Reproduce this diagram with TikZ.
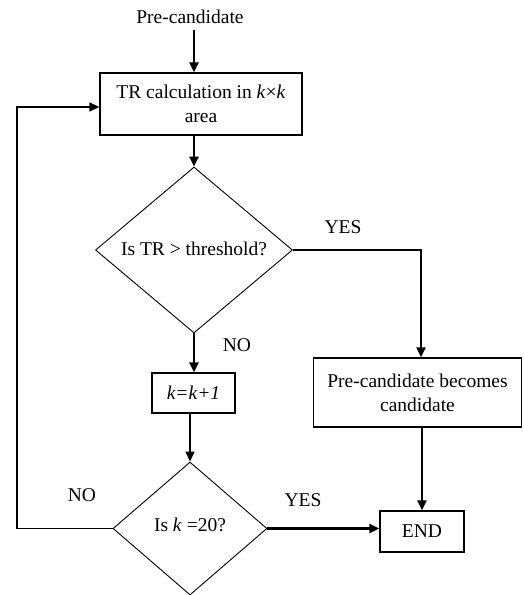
\documentclass[tikz,border=0pt]{standalone}
\usepackage{fontspec}
\setmainfont{Liberation Serif}
\usetikzlibrary{shapes.geometric,arrows.meta}
\begin{document}
\begin{tikzpicture}[x=1pt,y=-1pt,
  every node/.style={font=\fontsize{19.5}{24}\selectfont, inner sep=0pt},
  procbox/.style={draw, line width=1.3pt, align=center},
  decision/.style={draw, diamond, line width=0.9pt, aspect=1.2},
  lbl/.style={},
  thickarrow/.style={line width=2.6pt, -{Triangle[length=10pt,width=9pt]}},
  medarrow/.style={line width=2pt, -{Triangle[length=10pt,width=9pt]}},
  thinarrow/.style={line width=1.4pt, -{Triangle[length=10pt,width=9pt]}}
]
\useasboundingbox (0,0) rectangle (523,595);
\node (pre) at (190,17) {Pre-candidate};
\node[procbox, minimum width=202pt, minimum height=62pt] (tr) at (201,104)
  {TR calculation in \textit{k}×\textit{k}\\area};
\node[decision, minimum width=197pt, minimum height=166pt] (d1) at (194,250) {};
\node (d1t) at (194,249) {Is TR > threshold?};
\node[procbox, minimum width=83pt, minimum height=40pt] (kk) at (193.5,393) {\textit{k=k+1}};
\node[procbox, minimum width=208pt, minimum height=69pt] (cand) at (417.5,392.5)
  {Pre-candidate becomes\\candidate};
\node[decision, minimum width=154pt, minimum height=133pt] (d2) at (190,528.5) {};
\node (d2t) at (190,525) {Is \textit{k} =20?};
\node[procbox, minimum width=84pt, minimum height=41pt] (end) at (422,531.5) {END};
\node[lbl] (yes1) at (343,227) {YES};
\node[lbl] (no1) at (237,345) {NO};
\node[lbl] (no2) at (82,495) {NO};
\node[lbl] (yes2) at (303,500) {YES};
\coordinate (c1) at (421,249);
\coordinate (c2) at (17,528.5);
\coordinate (c3) at (17,107);
\draw[thickarrow, shorten <=6pt] (pre.south -| d1.north) -- (tr.north -| d1.north);
\draw[thickarrow] (tr.south -| d1.north) -- (d1.north);
\draw[medarrow] (d1.east) -- (d1.east -| c1) -- (cand.north -| c1);
\draw[thickarrow] (d1.south) -- (kk.north -| d1.south);
\draw[thinarrow] (kk.south -| d2.north) -- (d2.north);
\draw[thinarrow] (d2.west) -- (c2) -- (c3) -- (tr.west |- c3);
\draw[thickarrow] (d2.east) -- (end.west |- d2.east);
\draw[thickarrow] (cand.south -| end.north) -- (end.north);
\end{tikzpicture}
\end{document}
